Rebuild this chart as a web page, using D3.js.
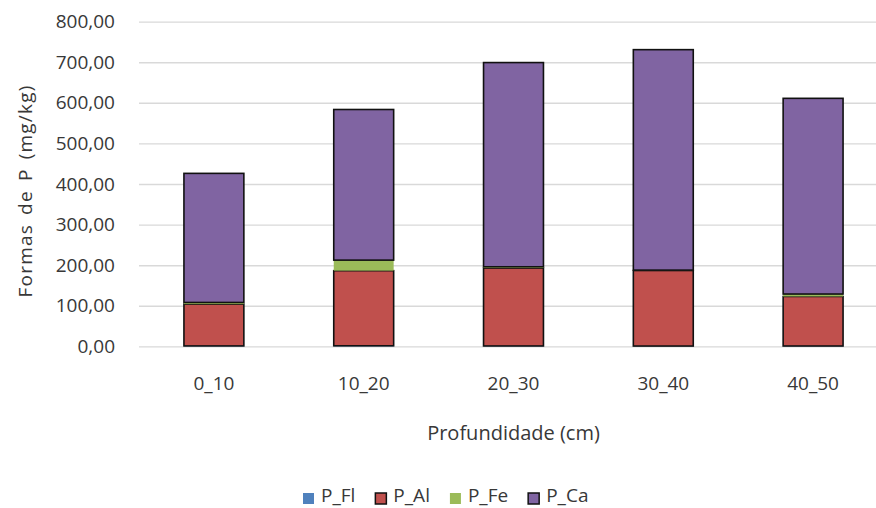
<!DOCTYPE html>
<html>
<head>
<meta charset="utf-8">
<script src="https://cdn.jsdelivr.net/npm/d3@7/dist/d3.min.js"></script>
<style>
  html, body { margin: 0; padding: 0; background: #fff; }
  svg { display: block; font-family: "Open Sans", sans-serif; }
</style>
</head>
<body>
<svg id="chart" width="876" height="508"></svg>
<script>
// ---- data ----
const categories = ["0_10", "10_20", "20_30", "30_40", "40_50"];
const seriesNames = ["P_Fl", "P_Al", "P_Fe", "P_Ca"];
const P_Fl = [1.2, 1.5, 1.1, 0.9, 1.0];
const P_Al = [103, 185, 192, 186, 122];
const P_Fe = [4, 26, 3, 1, 6];
const P_Ca = [318, 371, 503, 543, 482];
const yTicks = [0, 100, 200, 300, 400, 500, 600, 700, 800];
const yTitle = "Formas de P (mg/kg)";
const xTitle = "Profundidade (cm)";
const legendLabels = ["P_Fl", "P_Al", "P_Fe", "P_Ca"];

// ---- styles ----
const colors = { P_Fl: "#4f81bd", P_Al: "#c0504d", P_Fe: "#9bbb59", P_Ca: "#8064a2" };
const bordered = { P_Fl: false, P_Al: true, P_Fe: false, P_Ca: true };
const textColor = "#383838";

const rows = categories.map((c, i) => ({
  cat: c, P_Fl: P_Fl[i], P_Al: P_Al[i], P_Fe: P_Fe[i], P_Ca: P_Ca[i]
}));

const svg = d3.select("#chart");
const mLeft = 139, mRight = 888, mTop = 21.6, mBottom = 346.4;

const x = d3.scaleBand().domain(categories).range([mLeft, mRight])
  .paddingInner(0.6).paddingOuter(0.3);
const y = d3.scaleLinear().domain([0, 800]).range([mBottom, mTop]);

const loc = d3.formatLocale({ decimal: ",", thousands: ".", grouping: [3], currency: ["", ""] });
const fmt = loc.format(".2f");

// gridlines
const yAxis = d3.axisLeft(y).tickValues(yTicks).tickFormat(fmt)
  .tickSize(-(mRight - mLeft)).tickPadding(24);
const gy = svg.append("g").attr("transform", `translate(${mLeft},0)`).call(yAxis);
gy.select(".domain").remove();
gy.selectAll(".tick line").attr("stroke", "#d9d9d9").attr("stroke-width", 1.4);
gy.selectAll(".tick text").attr("fill", textColor).style("font-size", "19px")
  .style("font-family", "'Open Sans', sans-serif");

// bars
const stack = d3.stack().keys(seriesNames);
const stacked = stack(rows);
svg.append("g").selectAll("g").data(stacked).join("g")
  .attr("fill", d => colors[d.key])
  .each(function (s) {
    d3.select(this).selectAll("rect").data(s).join("rect")
      .attr("x", d => x(d.data.cat))
      .attr("width", x.bandwidth())
      .attr("y", d => y(d[1]))
      .attr("height", d => y(d[0]) - y(d[1]))
      .attr("stroke", bordered[s.key] ? "#111" : "none")
      .attr("stroke-width", bordered[s.key] ? 1.6 : 0);
  });

// x axis labels
const xAxis = d3.axisBottom(x).tickSize(0).tickPadding(0);
const gx = svg.append("g").attr("transform", `translate(0,${mBottom})`).call(xAxis);
gx.select(".domain").remove();
gx.selectAll(".tick text").attr("fill", textColor).style("font-size", "19px")
  .style("font-family", "'Open Sans', sans-serif")
  .attr("y", 37).attr("dy", "0.35em");

// axis titles
svg.append("text")
  .attr("x", (mLeft + mRight) / 2).attr("y", 433).attr("dy", "0.35em")
  .attr("text-anchor", "middle").attr("fill", textColor)
  .style("font-size", "20px").text(xTitle);

svg.append("text")
  .attr("transform", "translate(25,191) rotate(-90)")
  .attr("dy", "0.35em")
  .attr("text-anchor", "middle").attr("fill", textColor)
  .style("font-size", "19px").style("letter-spacing", "1.2px").style("word-spacing", "3px")
  .text(yTitle);

// legend
const lg = svg.append("g").attr("transform", "translate(303,498.5)");
let cx = 0;
legendLabels.forEach((name, i) => {
  const g = lg.append("g").attr("transform", `translate(${cx},0)`);
  g.append("rect").attr("x", 0).attr("y", -5.5).attr("width", 11).attr("height", 11)
    .attr("fill", colors[seriesNames[i]])
    .attr("stroke", bordered[seriesNames[i]] ? "#111" : "none")
    .attr("stroke-width", bordered[seriesNames[i]] ? 1.5 : 0);
  const t = g.append("text").attr("x", 18).attr("y", 3.5)
    .attr("fill", textColor).style("font-size", "19px").text(name);
  const w = t.node().getComputedTextLength();
  cx += 18 + w + 20;
});
</script>
</body>
</html>
